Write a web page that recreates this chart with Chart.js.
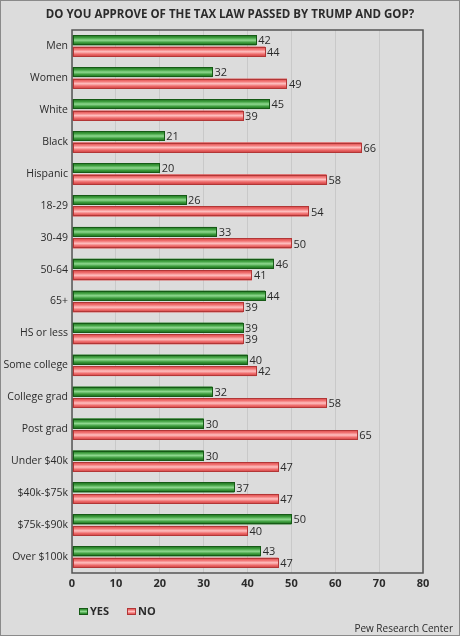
<!DOCTYPE html>
<html>
<head>
<meta charset="utf-8">
<script src="https://cdn.jsdelivr.net/npm/chart.js@4/dist/chart.umd.min.js"></script>
<style>
  html, body { margin: 0; padding: 0; background: #dcdcdc; }
  #wrap { width: 460px; height: 636px; position: relative; }
</style>
</head>
<body>
<div id="wrap"><canvas id="taxChart" width="460" height="636"></canvas></div>
<script>
const groups = ['Men', 'Women', 'White', 'Black', 'Hispanic', '18-29', '30-49', '50-64', '65+',
  'HS or less', 'Some college', 'College grad', 'Post grad', 'Under $40k', '$40k-$75k', '$75k-$90k', 'Over $100k'];
const yesValues = [42, 32, 45, 21, 20, 26, 33, 46, 44, 39, 40, 32, 30, 30, 37, 50, 43];
const noValues = [44, 49, 39, 66, 58, 54, 50, 41, 39, 39, 42, 58, 65, 47, 47, 40, 47];
const xTicks = [0, 10, 20, 30, 40, 50, 60, 70, 80];
const heading = 'DO YOU APPROVE OF THE TAX LAW PASSED BY TRUMP AND GOP?';
const source = 'Pew Research Center';

const FONT = "'Open Sans', sans-serif";
const TEXT = '#2b2b2b';

// shiny striped look on each bar
const stripes = {
  0: ['#1f6f1f', '#3f9f3f', '#8fd88f', '#3a9a3a', '#1a661a'],
  1: ['#d84848', '#f07070', '#ffc0c0', '#ee6a6a', '#cc4040']
};
const edges = { 0: '#165a16', 1: '#b23636' };

function shinyRect(c, di, left, top, w, h) {
  const g = c.createLinearGradient(0, top, 0, top + h);
  const cols = stripes[di];
  cols.forEach((col, k) => g.addColorStop(k / (cols.length - 1), col));
  c.fillStyle = g;
  c.fillRect(left, top, w, h);
  c.strokeStyle = edges[di];
  c.lineWidth = 1;
  c.strokeRect(Math.round(left) + 0.5, Math.round(top) + 0.5, Math.round(w) - 1, Math.round(h) - 1);
}

const framePlugin = {
  id: 'frame',
  beforeDraw(chart) {
    const c = chart.ctx;
    c.save();
    c.fillStyle = '#dcdcdc';
    c.fillRect(0, 0, chart.width, chart.height);
    c.strokeStyle = '#8a8a8a';
    c.lineWidth = 1;
    c.strokeRect(0.5, 0.5, chart.width - 1, chart.height - 1);
    // heading centred on the whole picture
    c.fillStyle = TEXT;
    c.font = 'bold 11.5px ' + FONT;
    c.textAlign = 'center';
    c.textBaseline = 'middle';
    c.fillText(heading, chart.width / 2, 15);
    c.restore();
  },
  afterDatasetsDraw(chart) {
    const c = chart.ctx;
    c.save();
    chart.data.datasets.forEach((ds, di) => {
      const meta = chart.getDatasetMeta(di);
      meta.data.forEach((el, i) => {
        const top = el.y - el.height / 2;
        const left = Math.min(el.x, el.base);
        shinyRect(c, di, left, top, Math.abs(el.x - el.base), el.height);
        c.fillStyle = TEXT;
        c.font = '11px ' + FONT;
        c.textAlign = 'left';
        c.textBaseline = 'middle';
        c.fillText(ds.data[i], el.x + 2, el.y + 1);
      });
    });
    const a = chart.chartArea;
    c.strokeStyle = '#555';
    c.lineWidth = 1.5;
    c.strokeRect(a.left, a.top, a.right - a.left, a.bottom - a.top);

    // legend under the axis
    let lx = a.left + 7;
    const ly = a.bottom + 38;
    c.font = 'bold 11px ' + FONT;
    c.textAlign = 'left';
    c.textBaseline = 'middle';
    chart.data.datasets.forEach((ds, di) => {
      shinyRect(c, di, lx, ly - 3, 9, 7);
      c.fillStyle = TEXT;
      c.fillText(ds.label, lx + 11, ly + 1);
      lx += 48;
    });

    // source note
    c.font = '10px ' + FONT;
    c.textAlign = 'right';
    c.fillStyle = TEXT;
    c.fillText(source, chart.width - 7, chart.height - 7);
    c.restore();
  }
};

new Chart('taxChart', {
  type: 'bar',
  data: {
    labels: groups,
    datasets: [{
      label: 'YES',
      data: yesValues,
      backgroundColor: '#2f8a2f',
      borderWidth: 0,
      categoryPercentage: 0.72,
      barPercentage: 0.86
    }, {
      label: 'NO',
      data: noValues,
      backgroundColor: '#e86060',
      borderWidth: 0,
      categoryPercentage: 0.72,
      barPercentage: 0.86
    }]
  },
  options: {
    indexAxis: 'y',
    responsive: false,
    animation: false,
    layout: { padding: { left: 4, right: 37, top: 30, bottom: 41 } },
    scales: {
      x: {
        min: 0,
        max: 80,
        afterBuildTicks(scale) { scale.ticks = xTicks.map(v => ({ value: v })); },
        grid: { color: '#c9c9c9', drawTicks: false },
        border: { display: false },
        ticks: { color: TEXT, font: { family: FONT, size: 11, weight: 'bold' }, padding: 4 },
        afterFit(scale) { scale.height = 22; }
      },
      y: {
        grid: { display: false, drawTicks: false },
        border: { display: false },
        ticks: { color: TEXT, font: { family: FONT, size: 10.5 }, padding: 4, autoSkip: false },
        afterFit(scale) { scale.width = 68; }
      }
    },
    plugins: {
      title: { display: false },
      legend: { display: false },
      tooltip: { enabled: false }
    }
  },
  plugins: [framePlugin]
});
</script>
</body>
</html>
